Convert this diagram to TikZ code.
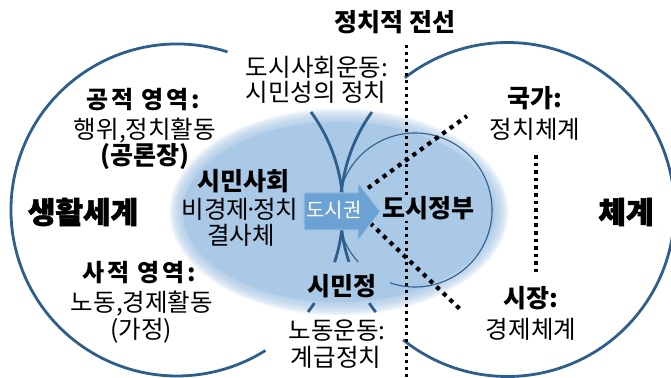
\documentclass[tikz,border=0pt]{standalone}
\usepackage{fontspec}
\setmainfont{Noto Sans CJK KR}
\newfontfamily\heavy{Noto Sans CJK KR}[BoldFeatures={FakeBold=1.8}]
\newfontfamily\spaced{Noto Sans CJK KR}[LetterSpace=12]
\usetikzlibrary{calc}
\definecolor{circcol}{RGB}{46,94,140}
\definecolor{ellcol}{RGB}{170,201,230}
\definecolor{arrcol}{RGB}{108,161,211}
\definecolor{arrline}{RGB}{150,190,228}
\tikzset{
  circline/.style={draw=circcol, line width=2.8pt},
  thinline/.style={draw=circcol, line width=1.1pt},
  dotline/.style={line width=3pt, dash pattern=on 3pt off 4pt},
  bigdots/.style={line width=4.2pt, dash pattern=on 4.2pt off 5pt},
  reg/.style={font=\fontsize{24.5}{26}\selectfont, inner sep=0pt},
  hd/.style={font=\fontsize{25}{26}\selectfont\bfseries, inner sep=0pt},
  sphd/.style={font=\fontsize{24}{26}\selectfont\spaced\bfseries, inner sep=0pt},
  hv/.style={font=\fontsize{30}{32}\selectfont\heavy\bfseries, inner sep=0pt},
}
\begin{document}
\begin{tikzpicture}[x=1pt,y=1pt]
\useasboundingbox (0,0) rectangle (671,377);
\fill[white] (0,0) rectangle (671,377);
% centres
\coordinate (CL) at (177,167);
\coordinate (CR) at (507.5,167.5);
\coordinate (CT) at (415,167);
\coordinate (E) at (339,165);
% soft ellipse
\fill[ellcol] (E) ellipse[x radius=156, y radius=90];
\foreach \k in {0,...,9}
  \fill[ellcol, opacity=0.16] (E) ellipse[x radius={156+\k*1.5}, y radius={90+\k*1.5}];
% left circle
\draw[circline] (CL) ++(72.3:166) arc[start angle=72.3, end angle=302.2, radius=166];
\draw[circline] (CL) ++(-18.3:166) arc[start angle=-18.3, end angle=36.2, radius=166];
\draw[circline] (CL) ++(-37.9:166) arc[start angle=-37.9, end angle=-34.1, radius=166];
% right circle
\draw[circline] (CR) ++(-128.7:167) arc[start angle=-128.7, end angle=127.9, radius=167];
\draw[circline] (CR) ++(144.3:167) arc[start angle=144.3, end angle=198.3, radius=167];
\draw[circline] (CR) ++(214.1:167) arc[start angle=214.1, end angle=217.9, radius=167];
% thin circle
\draw[thinline] (CT) ++(-108.9:77) arc[start angle=-108.9, end angle=222.4, radius=77];
% dotted lines
\coordinate (v1a) at (406,332);
\coordinate (v1b) at (406,0);
\coordinate (d1a) at (368,189);
\coordinate (d1b) at (467,261);
\coordinate (d2a) at (370,154);
\coordinate (d2b) at (463,65);
\coordinate (v2a) at (536,222);
\coordinate (v2b) at (536,105);
\draw[dotline] (v1a) -- (v1b);
\draw[bigdots] (d1a) -- (d1b);
\draw[bigdots] (d2a) -- (d2b);
\draw[dotline, line width=3.6pt, dash pattern=on 3.6pt off 4pt] (v2a) -- (v2b);
% arrow
\draw[fill=arrcol, draw=arrline, line width=1pt]
  (304,147) -- (358,147) -- (358,137) -- (380,165.5) -- (358,194) -- (358,184) -- (304,184) -- cycle;
\node[font=\fontsize{20}{22}\selectfont, text=white, inner sep=0pt] (dsg) at (334,167) {도시권};
% texts
\node[hd] (front) at (395,355) {정치적 전선};
\node[reg] (ur1) at (317,310) {도시사회운동:};
\node[reg] (ur2) at (316,285) {시민성의 정치};
\node[sphd] (pub1) at (143,277) {공적 영역:};
\node[reg] (pub2) at (145,246) {행위,정치활동};
\node[hd] (pub3) at (145,220) {(공론장)};
\node[hv] (life) at (83,165) {생활세계};
\node[hd] (cs1) at (243,196) {시민사회};
\node[reg] (cs2) at (240,168) {비경제\kern-5pt·\kern-5pt정치};
\node[reg] (cs3) at (241,142) {결사체};
\node[sphd] (pri1) at (139,104) {사적 영역:};
\node[reg] (pri2) at (142,73) {노동,경제활동};
\node[reg] (pri3) at (141,46) {(가정)};
\node[hd] (cit) at (342,91) {시민정};
\node[reg] (lab1) at (337,46) {노동운동:};
\node[reg] (lab2) at (336,20) {계급정치};
\node[hd, fill=ellcol, inner sep=1.5pt] (gov) at (428,169) {도시정부};
\node[hd] (st1) at (535,279) {국가:};
\node[reg] (st2) at (535,248) {정치체계};
\node[hd] (mk1) at (531,79) {시장:};
\node[reg] (mk2) at (531,48) {경제체계};
\node[hv] (sys) at (626,165) {체계};
\end{tikzpicture}
\end{document}
